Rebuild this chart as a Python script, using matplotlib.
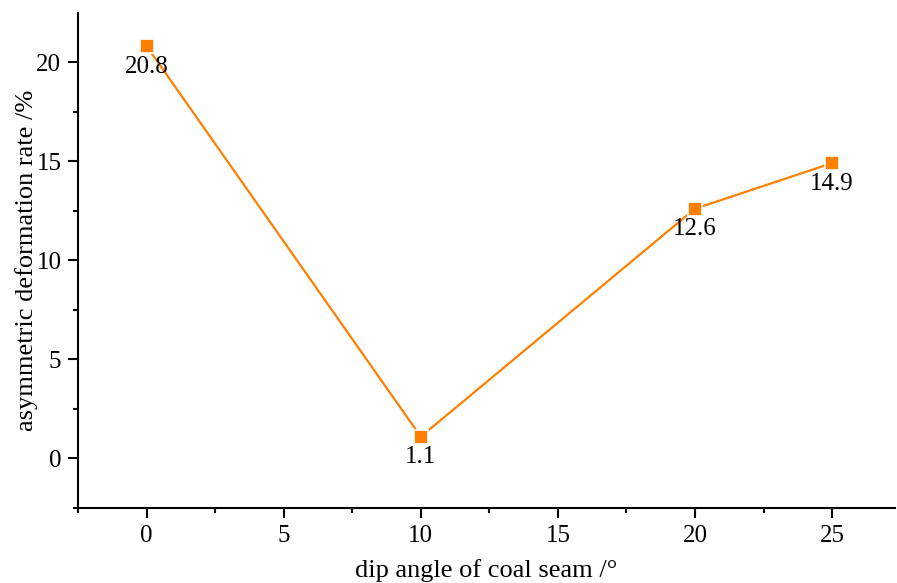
import matplotlib.pyplot as plt
from matplotlib.ticker import MultipleLocator

plt.rcParams['font.family'] = ['Liberation Serif', 'DejaVu Serif']

# Data
dip_angle = [0, 10, 20, 25]
deform_rate = [20.8, 1.1, 12.6, 14.9]
labels = ['20.8', '1.1', '12.6', '14.9']

fig = plt.figure(figsize=(8.97, 5.83), dpi=100)
ax = fig.add_axes([0.087, 0.1286, 0.911, 0.849])

ax.plot(dip_angle, deform_rate, color='#FF8000', linewidth=1.6,
        marker='s', markersize=10, markerfacecolor='#FF8000',
        markeredgecolor='white', markeredgewidth=1.2)

for x, y, s in zip(dip_angle, deform_rate, labels):
    ax.annotate(s, (x, y), xytext=(0, -7), textcoords='offset points',
                ha='center', va='top', fontsize=18)

ax.set_xlim(-2.5, 27.3)
ax.set_ylim(-2.5, 22.47)
ax.xaxis.set_major_locator(MultipleLocator(5))
ax.xaxis.set_minor_locator(MultipleLocator(2.5))
ax.yaxis.set_major_locator(MultipleLocator(5))
ax.yaxis.set_minor_locator(MultipleLocator(2.5))

ax.spines['top'].set_visible(False)
ax.spines['right'].set_visible(False)
for sp in ('left', 'bottom'):
    ax.spines[sp].set_linewidth(1.5)

ax.tick_params(which='major', direction='out', length=7, width=1.5, labelsize=18, pad=5)
ax.tick_params(which='minor', direction='out', length=3.5, width=1.5)

ax.set_xlabel('dip angle of coal seam /°', fontsize=19, labelpad=9)
ax.set_ylabel('asymmetric deformation rate /%', fontsize=19, labelpad=-1)

fig.savefig('out.png', dpi=100)
